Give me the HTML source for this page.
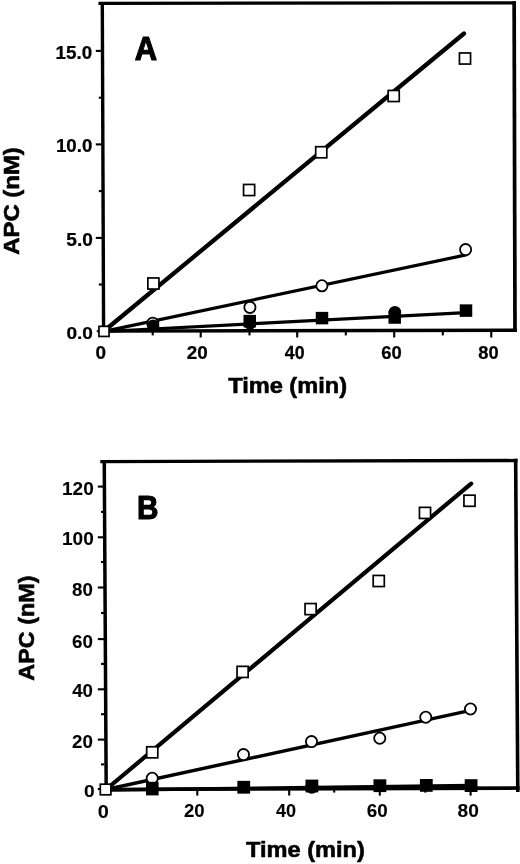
<!DOCTYPE html>
<html><head><meta charset="utf-8"><title>Figure</title>
<style>
html,body{margin:0;padding:0;background:#fff;}
svg{display:block;}
text{font-family:"Liberation Sans",sans-serif;font-weight:bold;font-size:100px;fill:#000;stroke:none;}
</style></head>
<body>
<svg width="520" height="864" viewBox="0 0 520 864" stroke="#000" fill="none">
<rect x="0" y="0" width="520" height="864" fill="#fff" stroke="none"/>
<line x1="96.8" y1="331.2" x2="102.5" y2="331.2" stroke-width="2.1" stroke-linecap="butt"/>
<line x1="95.8" y1="237.9" x2="102.5" y2="237.9" stroke-width="2.1" stroke-linecap="butt"/>
<line x1="95.8" y1="144.4" x2="102.5" y2="144.4" stroke-width="2.1" stroke-linecap="butt"/>
<line x1="95.8" y1="50.9" x2="102.5" y2="50.9" stroke-width="2.1" stroke-linecap="butt"/>
<line x1="98.8" y1="284.5" x2="102.5" y2="284.5" stroke-width="2.1" stroke-linecap="butt"/>
<line x1="98.8" y1="191.1" x2="102.5" y2="191.1" stroke-width="2.1" stroke-linecap="butt"/>
<line x1="98.8" y1="97.7" x2="102.5" y2="97.7" stroke-width="2.1" stroke-linecap="butt"/>
<line x1="200.7" y1="330" x2="200.7" y2="337.5" stroke-width="2.1" stroke-linecap="butt"/>
<line x1="297.2" y1="330" x2="297.2" y2="337.5" stroke-width="2.1" stroke-linecap="butt"/>
<line x1="394.2" y1="330" x2="394.2" y2="337.5" stroke-width="2.1" stroke-linecap="butt"/>
<line x1="491.25" y1="330" x2="491.25" y2="337.5" stroke-width="2.1" stroke-linecap="butt"/>
<line x1="152.7" y1="330" x2="152.7" y2="335.4" stroke-width="2.1" stroke-linecap="butt"/>
<line x1="249.5" y1="330" x2="249.5" y2="335.4" stroke-width="2.1" stroke-linecap="butt"/>
<line x1="345.8" y1="330" x2="345.8" y2="335.4" stroke-width="2.1" stroke-linecap="butt"/>
<line x1="442.8" y1="330" x2="442.8" y2="335.4" stroke-width="2.1" stroke-linecap="butt"/>
<line x1="98.5" y1="3.45" x2="516" y2="2.8" stroke-width="3.2" stroke-linecap="butt"/>
<line x1="514.15" y1="1.2" x2="515.0" y2="332" stroke-width="3.7" stroke-linecap="butt"/>
<line x1="102" y1="331.1" x2="517" y2="330.3" stroke-width="3.4" stroke-linecap="butt"/>
<line x1="102.3" y1="3" x2="103.6" y2="332" stroke-width="3.4" stroke-linecap="butt"/>
<line x1="104" y1="331.5" x2="466" y2="312.7" stroke-width="3.2" stroke-linecap="butt"/>
<line x1="104" y1="331.4" x2="466" y2="254.9" stroke-width="3.2" stroke-linecap="round"/>
<line x1="104" y1="331" x2="464" y2="33.5" stroke-width="4.3" stroke-linecap="round"/>
<circle cx="152.8" cy="323.2" r="5.60" fill="#fff" stroke-width="1.8"/>
<circle cx="249.9" cy="307.4" r="5.60" fill="#fff" stroke-width="1.8"/>
<circle cx="321.9" cy="285.8" r="5.60" fill="#fff" stroke-width="1.8"/>
<circle cx="465.6" cy="249.6" r="5.60" fill="#fff" stroke-width="1.8"/>
<circle cx="153.2" cy="325.6" r="6.20" fill="#000" stroke="none"/>
<circle cx="250" cy="323.6" r="6.20" fill="#000" stroke="none"/>
<circle cx="394.9" cy="312.3" r="6.30" fill="#000" stroke="none"/>
<rect x="243.50" y="314.85" width="12.5" height="12.5" fill="#000" stroke="none"/>
<rect x="315.75" y="311.85" width="12.5" height="12.5" fill="#000" stroke="none"/>
<rect x="388.45" y="311.25" width="12.5" height="12.5" fill="#000" stroke="none"/>
<rect x="459.75" y="304.35" width="12.5" height="12.5" fill="#000" stroke="none"/>
<rect x="98.95" y="326.35" width="10.10" height="10.10" fill="#fff" stroke-width="1.7"/>
<rect x="147.85" y="277.95" width="11.10" height="11.10" fill="#fff" stroke-width="1.7"/>
<rect x="243.55" y="184.45" width="11.10" height="11.10" fill="#fff" stroke-width="1.7"/>
<rect x="315.70" y="146.70" width="11.10" height="11.10" fill="#fff" stroke-width="1.7"/>
<rect x="388.15" y="90.45" width="11.10" height="11.10" fill="#fff" stroke-width="1.7"/>
<rect x="459.45" y="52.95" width="11.10" height="11.10" fill="#fff" stroke-width="1.7"/>
<text transform="translate(55.46 58.60) scale(0.1884 0.1787)" style="stroke:#000;stroke-width:1.36px;stroke-linejoin:round">15.0</text>
<text transform="translate(55.97 151.69) scale(0.1868 0.1801)" style="stroke:#000;stroke-width:1.36px;stroke-linejoin:round">10.0</text>
<text transform="translate(66.35 246.10) scale(0.1905 0.1773)" style="stroke:#000;stroke-width:1.36px;stroke-linejoin:round">5.0</text>
<text transform="translate(66.38 338.70) scale(0.1911 0.1702)" style="stroke:#000;stroke-width:1.38px;stroke-linejoin:round">0.0</text>
<text transform="translate(95.39 358.90) scale(0.1897 0.1794)" style="stroke:#000;stroke-width:1.35px;stroke-linejoin:round">0</text>
<text transform="translate(186.73 358.90) scale(0.1888 0.1794)" style="stroke:#000;stroke-width:1.36px;stroke-linejoin:round">20</text>
<text transform="translate(284.86 358.90) scale(0.1774 0.1794)" style="stroke:#000;stroke-width:1.40px;stroke-linejoin:round">40</text>
<text transform="translate(381.36 358.90) scale(0.1839 0.1794)" style="stroke:#000;stroke-width:1.38px;stroke-linejoin:round">60</text>
<text transform="translate(478.31 358.90) scale(0.1825 0.1794)" style="stroke:#000;stroke-width:1.38px;stroke-linejoin:round">80</text>
<text transform="translate(134.81 59.70) scale(0.3095 0.3234)" style="stroke:#000;stroke-width:3.48px;stroke-linejoin:round">A</text>
<text transform="translate(228.14 392.60) scale(0.2361 0.2213)" style="stroke:#000;stroke-width:2.62px;stroke-linejoin:round">Time (min)</text>
<text transform="translate(19.22 254.87) rotate(-90) scale(0.2395 0.2154)" style="stroke:#000;stroke-width:2.64px;stroke-linejoin:round">APC (nM)</text>
<line x1="97.8" y1="789.0" x2="104.5" y2="789.0" stroke-width="2.1" stroke-linecap="butt"/>
<line x1="97.8" y1="739.6" x2="104.5" y2="739.6" stroke-width="2.1" stroke-linecap="butt"/>
<line x1="97.8" y1="689.3" x2="104.5" y2="689.3" stroke-width="2.1" stroke-linecap="butt"/>
<line x1="97.8" y1="639.1" x2="104.5" y2="639.1" stroke-width="2.1" stroke-linecap="butt"/>
<line x1="97.8" y1="587.5" x2="104.5" y2="587.5" stroke-width="2.1" stroke-linecap="butt"/>
<line x1="97.8" y1="537.3" x2="104.5" y2="537.3" stroke-width="2.1" stroke-linecap="butt"/>
<line x1="97.8" y1="486.6" x2="104.5" y2="486.6" stroke-width="2.1" stroke-linecap="butt"/>
<line x1="101.0" y1="764.4" x2="104.5" y2="764.4" stroke-width="2.1" stroke-linecap="butt"/>
<line x1="101.0" y1="714.2" x2="104.5" y2="714.2" stroke-width="2.1" stroke-linecap="butt"/>
<line x1="101.0" y1="663.9" x2="104.5" y2="663.9" stroke-width="2.1" stroke-linecap="butt"/>
<line x1="101.0" y1="613.0" x2="104.5" y2="613.0" stroke-width="2.1" stroke-linecap="butt"/>
<line x1="101.0" y1="562.0" x2="104.5" y2="562.0" stroke-width="2.1" stroke-linecap="butt"/>
<line x1="101.0" y1="511.9" x2="104.5" y2="511.9" stroke-width="2.1" stroke-linecap="butt"/>
<line x1="197.3" y1="788" x2="197.3" y2="795.6" stroke-width="2.1" stroke-linecap="butt"/>
<line x1="289.2" y1="788" x2="289.2" y2="795.6" stroke-width="2.1" stroke-linecap="butt"/>
<line x1="379.8" y1="788" x2="379.8" y2="795.6" stroke-width="2.1" stroke-linecap="butt"/>
<line x1="470.6" y1="788" x2="470.6" y2="795.6" stroke-width="2.1" stroke-linecap="butt"/>
<line x1="151.9" y1="788" x2="151.9" y2="792.6" stroke-width="2.1" stroke-linecap="butt"/>
<line x1="243.0" y1="788" x2="243.0" y2="792.6" stroke-width="2.1" stroke-linecap="butt"/>
<line x1="334.2" y1="788" x2="334.2" y2="792.6" stroke-width="2.1" stroke-linecap="butt"/>
<line x1="425.3" y1="788" x2="425.3" y2="792.6" stroke-width="2.1" stroke-linecap="butt"/>
<line x1="100.3" y1="461.6" x2="517.5" y2="460.5" stroke-width="3.3" stroke-linecap="butt"/>
<line x1="515.65" y1="458.8" x2="517.8" y2="792" stroke-width="3.6" stroke-linecap="butt"/>
<line x1="104.5" y1="789.5" x2="519.6" y2="788.0" stroke-width="3.7" stroke-linecap="butt"/>
<line x1="104.25" y1="460" x2="106.2" y2="790.3" stroke-width="3.5" stroke-linecap="butt"/>
<line x1="106" y1="790.0" x2="471" y2="785.6" stroke-width="3.6" stroke-linecap="butt"/>
<line x1="106" y1="789.5" x2="466" y2="711.4" stroke-width="3.4" stroke-linecap="round"/>
<line x1="106" y1="789.5" x2="471.2" y2="483.6" stroke-width="4.2" stroke-linecap="round"/>
<circle cx="152.2" cy="778.3" r="5.60" fill="#fff" stroke-width="1.8"/>
<circle cx="243.5" cy="754.6" r="5.60" fill="#fff" stroke-width="1.8"/>
<circle cx="311.5" cy="741.6" r="5.60" fill="#fff" stroke-width="1.8"/>
<circle cx="379.75" cy="738.25" r="5.60" fill="#fff" stroke-width="1.8"/>
<circle cx="425.75" cy="717.25" r="5.60" fill="#fff" stroke-width="1.8"/>
<circle cx="470.5" cy="709" r="5.60" fill="#fff" stroke-width="1.8"/>
<circle cx="311.8" cy="787.2" r="6.50" fill="#000" stroke="none"/>
<rect x="146.0" y="781.8" width="12.6" height="13.6" fill="#000" stroke="none"/>
<rect x="237.35" y="780.85" width="12.8" height="12.8" fill="#000" stroke="none"/>
<rect x="305.50" y="779.60" width="12.8" height="12.8" fill="#000" stroke="none"/>
<rect x="373.50" y="779.30" width="12.8" height="12.8" fill="#000" stroke="none"/>
<rect x="419.90" y="779.00" width="12.8" height="12.8" fill="#000" stroke="none"/>
<rect x="464.70" y="779.20" width="12.8" height="12.8" fill="#000" stroke="none"/>
<rect x="100.30" y="784.20" width="10.60" height="10.60" fill="#fff" stroke-width="1.7"/>
<rect x="146.70" y="746.75" width="11.10" height="11.10" fill="#fff" stroke-width="1.7"/>
<rect x="237.05" y="666.35" width="11.10" height="11.10" fill="#fff" stroke-width="1.7"/>
<rect x="305.05" y="603.55" width="11.10" height="11.10" fill="#fff" stroke-width="1.7"/>
<rect x="373.20" y="575.45" width="11.10" height="11.10" fill="#fff" stroke-width="1.7"/>
<rect x="419.45" y="507.35" width="11.10" height="11.10" fill="#fff" stroke-width="1.7"/>
<rect x="463.95" y="495.20" width="11.10" height="11.10" fill="#fff" stroke-width="1.7"/>
<text transform="translate(61.97 494.66) scale(0.1903 0.1879)" style="stroke:#000;stroke-width:0.53px;stroke-linejoin:round">120</text>
<text transform="translate(61.97 545.36) scale(0.1903 0.1879)" style="stroke:#000;stroke-width:0.53px;stroke-linejoin:round">100</text>
<text transform="translate(72.12 596.26) scale(0.1868 0.1879)" style="stroke:#000;stroke-width:0.53px;stroke-linejoin:round">80</text>
<text transform="translate(72.02 647.56) scale(0.1877 0.1879)" style="stroke:#000;stroke-width:0.53px;stroke-linejoin:round">60</text>
<text transform="translate(72.17 697.46) scale(0.1864 0.1879)" style="stroke:#000;stroke-width:0.53px;stroke-linejoin:round">40</text>
<text transform="translate(72.06 747.86) scale(0.1874 0.1879)" style="stroke:#000;stroke-width:0.53px;stroke-linejoin:round">20</text>
<text transform="translate(84.05 796.98) scale(0.1918 0.1709)" style="stroke:#000;stroke-width:0.55px;stroke-linejoin:round">0</text>
<text transform="translate(97.77 817.67) scale(0.1992 0.1794)" style="stroke:#000;stroke-width:0.53px;stroke-linejoin:round">0</text>
<text transform="translate(184.02 817.07) scale(0.1859 0.1836)" style="stroke:#000;stroke-width:0.54px;stroke-linejoin:round">20</text>
<text transform="translate(275.98 817.07) scale(0.1807 0.1836)" style="stroke:#000;stroke-width:0.55px;stroke-linejoin:round">40</text>
<text transform="translate(366.67 817.07) scale(0.1882 0.1836)" style="stroke:#000;stroke-width:0.54px;stroke-linejoin:round">60</text>
<text transform="translate(457.56 816.76) scale(0.1912 0.1850)" style="stroke:#000;stroke-width:0.53px;stroke-linejoin:round">80</text>
<text transform="translate(137.09 518.85) scale(0.2971 0.3241)" style="stroke:#000;stroke-width:3.54px;stroke-linejoin:round">B</text>
<text transform="translate(245.94 856.99) scale(0.2362 0.2219)" style="stroke:#000;stroke-width:2.62px;stroke-linejoin:round">Time (min)</text>
<text transform="translate(34.30 680.66) rotate(-90) scale(0.2338 0.2262)" style="stroke:#000;stroke-width:2.61px;stroke-linejoin:round">APC (nM)</text>
</svg>
</body></html>
